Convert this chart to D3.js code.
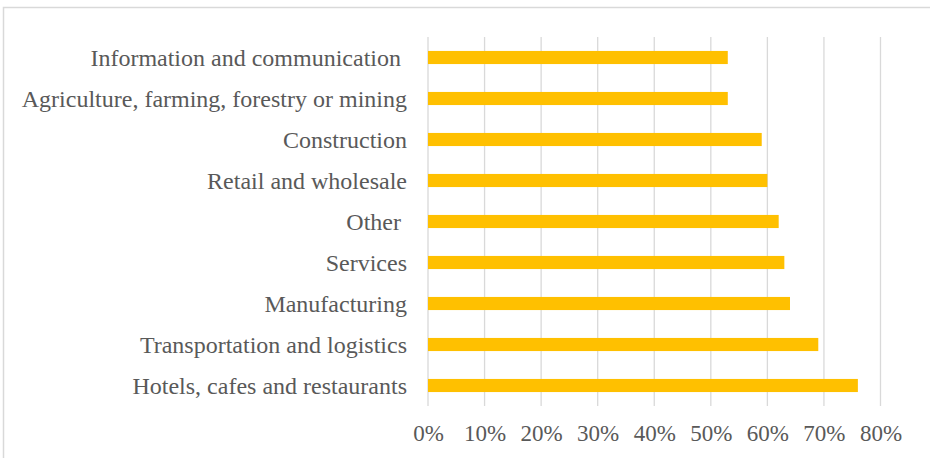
<!DOCTYPE html>
<html>
<head>
<meta charset="utf-8">
<script src="https://cdn.jsdelivr.net/npm/d3@7"></script>
<style>
  body { margin: 0; background: #fff; }
  svg text { font-family: "Liberation Serif", "Times New Roman", serif; fill: #595959; white-space: pre; }
</style>
</head>
<body>
<svg id="chart" width="930" height="458"></svg>
<script>
// data, top to bottom as drawn
var categories = [
  "Information and communication ",
  "Agriculture, farming, forestry or mining",
  "Construction",
  "Retail and wholesale",
  "Other ",
  "Services",
  "Manufacturing",
  "Transportation and logistics",
  "Hotels, cafes and restaurants"
];
var values = [0.53, 0.53, 0.59, 0.60, 0.62, 0.63, 0.64, 0.69, 0.76];
var tickValues = [0, 0.1, 0.2, 0.3, 0.4, 0.5, 0.6, 0.7, 0.8];

var svg = d3.select("#chart");

// outer frame
svg.append("rect")
  .attr("x", 3.5).attr("y", 7.5)
  .attr("width", 940).attr("height", 470)
  .attr("fill", "#fff")
  .attr("stroke", "#d9d9d9").attr("stroke-width", 1.5);

// plot area (note: "top" is taken by window.top)
var plotLeft = 428, plotRight = 880.5, plotTop = 37, plotBottom = 406;

var x = d3.scaleLinear().domain([0, 0.8]).range([plotLeft, plotRight]);
var y = d3.scaleBand().domain(categories).range([plotTop, plotBottom]).paddingInner(0.68).paddingOuter(0.34);

// gridlines
svg.append("g").selectAll("line")
  .data(tickValues)
  .enter().append("line")
  .attr("x1", function(d) { return x(d); })
  .attr("x2", function(d) { return x(d); })
  .attr("y1", plotTop).attr("y2", plotBottom)
  .attr("stroke", "#d9d9d9").attr("stroke-width", 1.3);

// bars
svg.append("g").selectAll("rect")
  .data(values)
  .enter().append("rect")
  .attr("x", x(0))
  .attr("y", function(d, i) { return y(categories[i]); })
  .attr("width", function(d) { return x(d) - x(0); })
  .attr("height", y.bandwidth())
  .attr("fill", "#ffc000");

// category labels
var yAxis = d3.axisLeft(y).tickSize(0).tickPadding(21);
var gy = svg.append("g").attr("transform", "translate(" + plotLeft + ",0)").call(yAxis);
gy.select(".domain").remove();
gy.selectAll("text")
  .attr("fill", "#595959")
  .style("font-size", "24px")
  .attr("dy", "0.34em");

// x tick labels
var xAxis = d3.axisBottom(x).tickValues(tickValues).tickSize(0).tickPadding(0)
  .tickFormat(d3.format(".0%"));
var gx = svg.append("g").attr("transform", "translate(0,441)").call(xAxis);
gx.select(".domain").remove();
gx.selectAll("text")
  .attr("fill", "#595959")
  .attr("y", 0).attr("dy", 0)
  .style("font-size", "23px");
</script>
</body>
</html>
